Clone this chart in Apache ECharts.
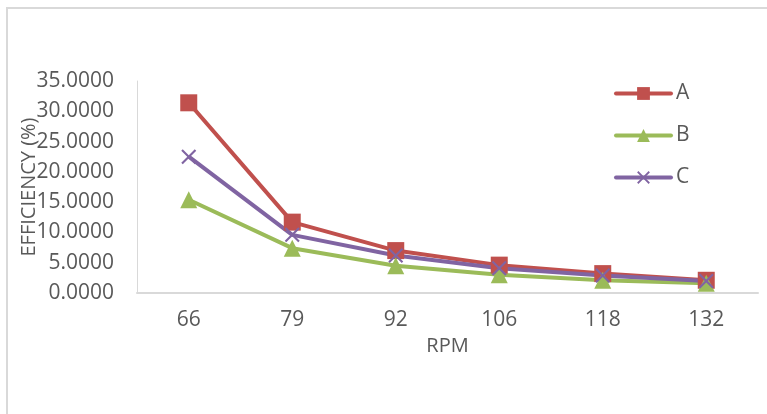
<!DOCTYPE html>
<html>
<head>
<meta charset="utf-8">
<script src="https://cdn.jsdelivr.net/npm/echarts@6/dist/echarts.min.js"></script>
<style>
  html, body { margin: 0; padding: 0; background: #fff; }
  #chart { width: 767px; height: 414px; }
</style>
</head>
<body>
<div id="chart"></div>
<script>
// Rotational speed categories and efficiency readings per series
const rpm = ['66', '79', '92', '106', '118', '132'];
const seriesA = [31.4, 11.7, 7.0, 4.6, 3.2, 2.1];
const seriesB = [15.4, 7.4, 4.5, 3.0, 2.1, 1.6];
const seriesC = [22.5, 9.6, 6.2, 4.1, 2.9, 2.0];
const seriesNames = ['A', 'B', 'C'];
const yTicks = { min: 0, max: 35, interval: 5 };

const textColor = '#595959';
const fontFamily = '"Open Sans", "Noto Sans", sans-serif';
const crossPath = 'path://M0,1 L1,0 L5,4 L9,0 L10,1 L6,5 L10,9 L9,10 L5,6 L1,10 L0,9 L4,5 Z';

const chart = echarts.init(document.getElementById('chart'), null, { renderer: 'canvas' });

function lineSeries(name, data, color, symbol, size) {
  return {
    name: name,
    type: 'line',
    data: data,
    symbol: symbol,
    symbolSize: size,
    showAllSymbol: true,
    lineStyle: { color: color, width: 4 },
    itemStyle: { color: color },
    emphasis: { disabled: true },
    animation: false
  };
}

chart.setOption({
  animation: false,
  backgroundColor: '#ffffff',
  textStyle: { fontFamily: fontFamily },
  graphic: [{
    type: 'rect',
    shape: { x: 7, y: 8, width: 820, height: 500 },
    style: { fill: 'none', stroke: '#d9d9d9', lineWidth: 2 },
    silent: true,
    z: -10
  }],
  grid: { left: 137, right: 9, top: 81, bottom: 121, containLabel: false },
  legend: {
    orient: 'vertical',
    left: 614,
    top: 83,
    padding: 0,
    itemWidth: 55,
    itemHeight: 16,
    itemGap: 21,
    lineStyle: { width: 4, cap: 'round' },
    textStyle: { color: textColor, fontSize: 21, fontFamily: fontFamily },
    data: seriesNames
  },
  xAxis: {
    type: 'category',
    data: rpm,
    boundaryGap: true,
    name: 'RPM',
    nameLocation: 'middle',
    nameGap: 43,
    nameMoveOverlap: false,
    nameTextStyle: { color: textColor, fontSize: 20, fontFamily: fontFamily },
    axisLine: { show: true, lineStyle: { color: '#d9d9d9', width: 2 } },
    axisTick: { show: false },
    axisLabel: { color: textColor, fontSize: 21, margin: 17, fontFamily: fontFamily },
    splitLine: { show: false }
  },
  yAxis: {
    type: 'value',
    min: yTicks.min,
    max: yTicks.max,
    interval: yTicks.interval,
    name: 'EFFICIENCY (%)',
    nameLocation: 'middle',
    nameGap: 98,
    nameMoveOverlap: false,
    nameTextStyle: { color: textColor, fontSize: 20, fontFamily: fontFamily },
    axisLine: { show: true, lineStyle: { color: '#d9d9d9', width: 1 } },
    axisTick: { show: false },
    axisLabel: {
      color: textColor, fontSize: 21, margin: 23, fontFamily: fontFamily,
      formatter: function (v) { return v.toFixed(4); }
    },
    splitLine: { show: false }
  },
  series: [
    lineSeries(seriesNames[0], seriesA, '#C0504D', 'rect', 17),
    lineSeries(seriesNames[1], seriesB, '#9BBB59', 'triangle', 17),
    lineSeries(seriesNames[2], seriesC, '#8064A2', crossPath, 15)
  ]
});
</script>
</body>
</html>
